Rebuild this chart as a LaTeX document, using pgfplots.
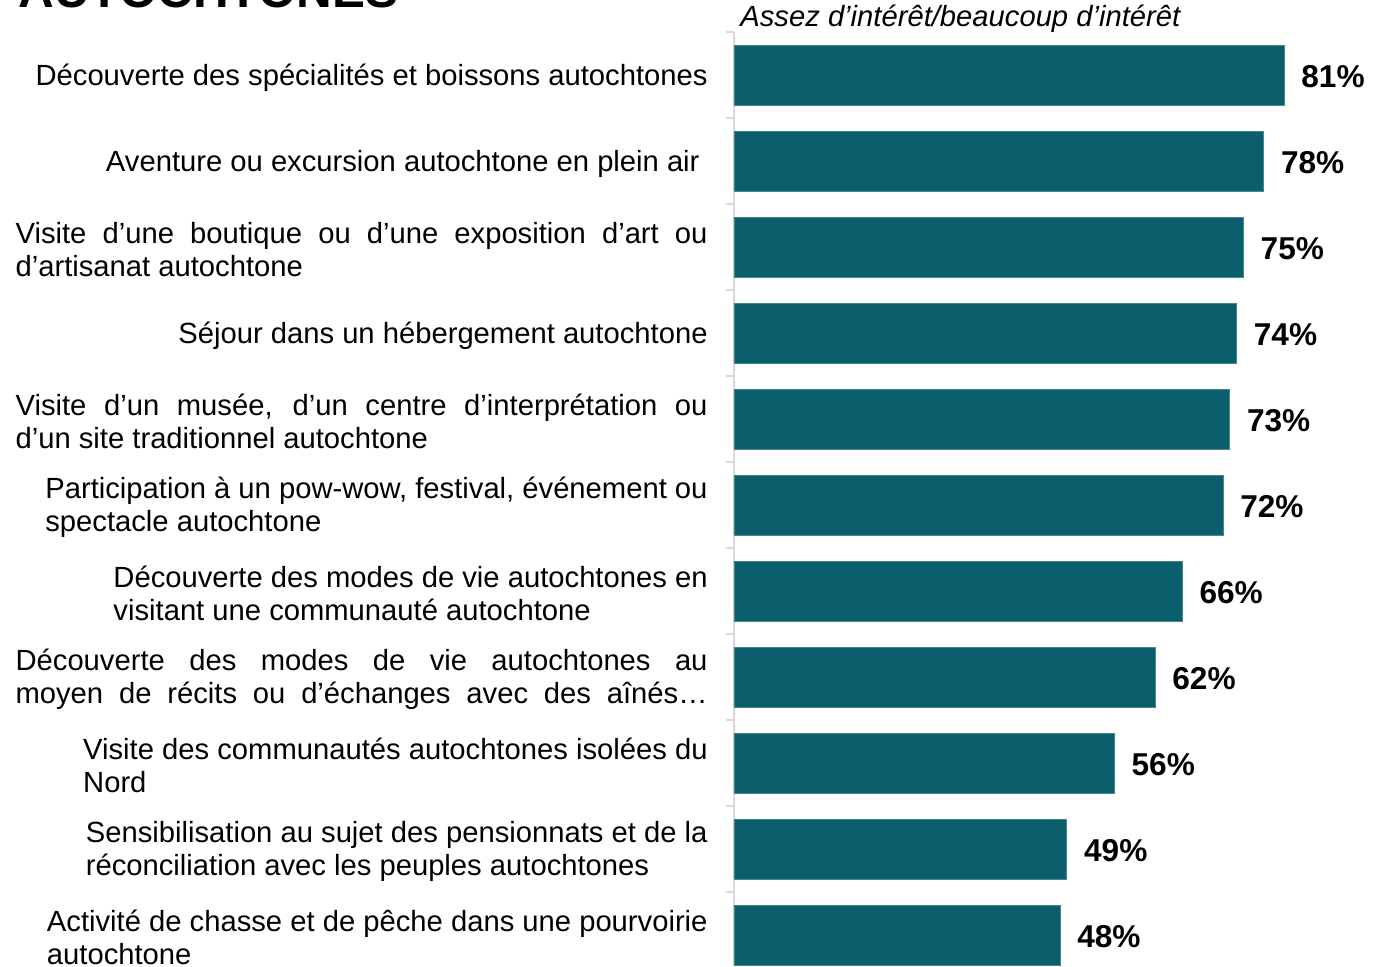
\documentclass[border=0pt]{standalone}
\usepackage{pgfplots}
\pgfplotsset{compat=1.18}
\usepackage{fontspec}
\setmainfont{Liberation Sans}
\definecolor{barc}{HTML}{0B5E6B}
\definecolor{axgray}{HTML}{D9D9D9}
\newcommand{\jl}[1]{\makebox[346pt][s]{#1}}
\begin{document}
\begin{tikzpicture}[x=1pt,y=1pt]
\begin{axis}[
  at={(367pt,0pt)}, anchor=south west,
  width=327.5pt, height=467pt, scale only axis,
  xmin=0, xmax=96.46, ymin=-0.5, ymax=10.36, y dir=reverse,
  hide x axis,
  axis y line*=left,
  y axis line style={-, draw=axgray, line width=0.8pt},
  ytick={0,...,10},
  minor ytick={-0.5,0.5,...,9.5},
  major tick length=0pt, minor tick length=4pt, tick align=outside,
  minor tick style={draw=axgray, line width=0.8pt},
  yticklabels={
    {Découverte des spécialités et boissons autochtones},
    {Aventure ou excursion autochtone en plein air\hspace*{4pt}},
    {\jl{Visite d’une boutique ou d’une exposition d’art ou}\\d’artisanat autochtone},
    {Séjour dans un hébergement autochtone},
    {\jl{Visite d’un musée, d’un centre d’interprétation ou}\\d’un site traditionnel autochtone},
    {Participation à un pow-wow, festival, événement ou\\spectacle autochtone},
    {Découverte des modes de vie autochtones en\\visitant une communauté autochtone},
    {\jl{Découverte des modes de vie autochtones au}\\\jl{moyen de récits ou d’échanges avec des aînés…}},
    {Visite des communautés autochtones isolées du\\Nord},
    {Sensibilisation au sujet des pensionnats et de la\\réconciliation avec les peuples autochtones},
    {Activité de chasse et de pêche dans une pourvoirie\\autochtone}
  },
  yticklabel style={align=left, inner sep=0pt, xshift=-13pt, yshift=-1.3pt, font=\fontsize{14.6}{16.6}\selectfont},
  xbar, bar width=30pt,
  /pgf/number format/assume math mode=true,
  nodes near coords={\pgfmathprintnumber{\pgfplotspointmeta}\%},
  nodes near coords style={font=\bfseries\fontsize{15.8}{18}\selectfont, anchor=west, inner sep=0pt, xshift=8.5pt, yshift=-1pt},
]
\addplot[fill=barc, draw=barc!75!white, line width=0.4pt] coordinates {
(81,0) (78,1) (75,2) (74,3) (73,4) (72,5) (66,6) (62,7) (56,8) (49,9) (48,10)
};
\end{axis}
\node[anchor=base west, font=\bfseries\fontsize{24.7}{28}\selectfont, inner sep=0pt] at (9,479) {AUTOCHTONES};
\node[anchor=base west, font=\itshape\fontsize{14.6}{16}\selectfont, inner sep=0pt] at (370,469.5) {Assez d’intérêt/beaucoup d’intérêt};
\pgfresetboundingbox
\useasboundingbox (0,0) rectangle (694.5,483);
\end{tikzpicture}
\end{document}
